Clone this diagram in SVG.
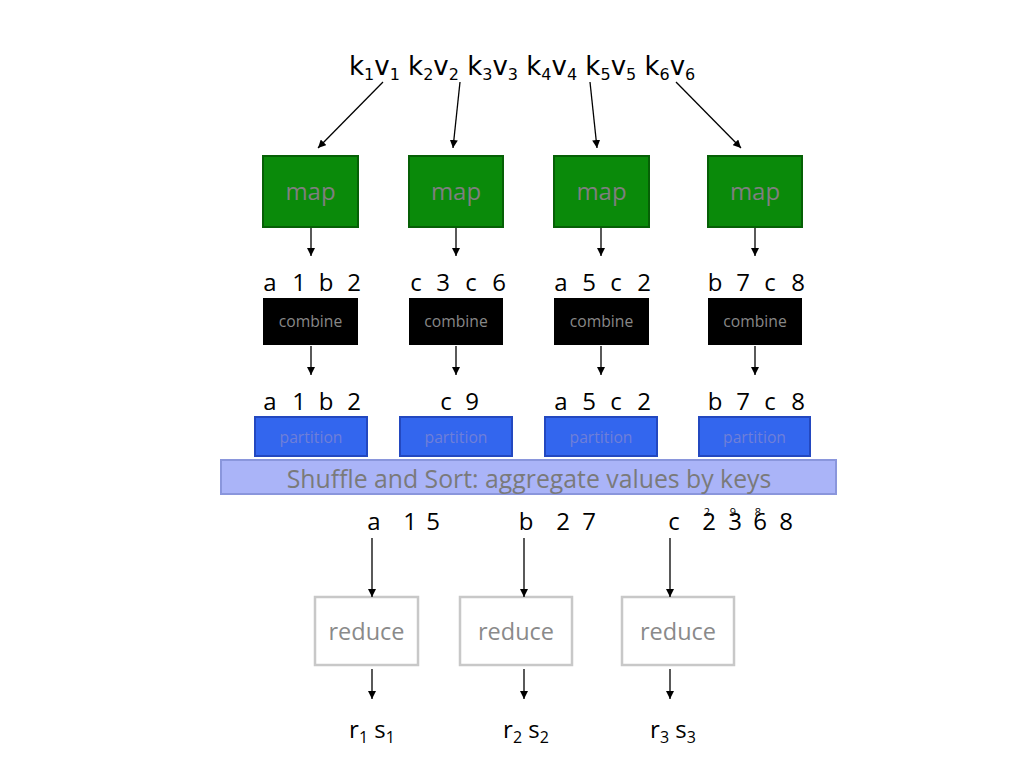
<svg xmlns="http://www.w3.org/2000/svg" width="1024" height="768" viewBox="0 0 1024 768">
<defs>
<marker id="ah" viewBox="0 0 10 10" refX="10" refY="5" markerWidth="8" markerHeight="8" markerUnits="userSpaceOnUse" orient="auto">
<path d="M0,0 L10,5 L0,10 z" fill="#000"/>
</marker>
<style>
.conn{stroke:#000;stroke-width:1.3;fill:none;marker-end:url(#ah)}
.lbl{font-family:"Open Sans","DejaVu Sans",sans-serif;font-size:24px;fill:#000;text-anchor:middle}
.top{font-family:"DejaVu Sans",Verdana,sans-serif;font-size:26px;fill:#000}
.sub{font-size:16px}
.map{fill:#0a8a0a;stroke:#066006;stroke-width:2}
.maptxt{font-family:"Open Sans",sans-serif;font-size:24px;fill:#7f7f7f;text-anchor:middle}
.comb{fill:#000}
.combtxt{font-family:"Open Sans",sans-serif;font-size:15.7px;fill:#888;text-anchor:middle}
.part{fill:#3366ee;stroke:#2348c0;stroke-width:2}
.parttxt{font-family:"Open Sans",sans-serif;font-size:15.7px;fill:#6f7fd8;text-anchor:middle}
.shuf{fill:#aab4f8;stroke:#8a96dc;stroke-width:2}
.shuftxt{font-family:"Open Sans",sans-serif;font-size:24.8px;fill:#7a7a7a;text-anchor:middle}
.red{fill:#fff;stroke:#c8c8c8;stroke-width:2.5}
.redtxt{font-family:"Open Sans",sans-serif;font-size:23.5px;fill:#8a8a8a;text-anchor:middle}
.tiny{font-family:"Open Sans",sans-serif;font-size:11px;fill:#000;text-anchor:middle}
</style>
</defs>
<rect width="1024" height="768" fill="#fff"/>

<g id="input">
<text class="top" x="349" y="75">k<tspan class="sub" dy="5">1</tspan><tspan dy="-5">v</tspan><tspan class="sub" dy="5">1</tspan><tspan dy="-5"> k</tspan><tspan class="sub" dy="5">2</tspan><tspan dy="-5">v</tspan><tspan class="sub" dy="5">2</tspan><tspan dy="-5"> k</tspan><tspan class="sub" dy="5">3</tspan><tspan dy="-5">v</tspan><tspan class="sub" dy="5">3</tspan><tspan dy="-5"> k</tspan><tspan class="sub" dy="5">4</tspan><tspan dy="-5">v</tspan><tspan class="sub" dy="5">4</tspan><tspan dy="-5"> k</tspan><tspan class="sub" dy="5">5</tspan><tspan dy="-5">v</tspan><tspan class="sub" dy="5">5</tspan><tspan dy="-5"> k</tspan><tspan class="sub" dy="5">6</tspan><tspan dy="-5">v</tspan><tspan class="sub" dy="5">6</tspan></text>
</g>

<g id="map1"><rect class="map" x="263" y="156" width="95" height="71"/><text class="maptxt" x="310.5" y="200">map</text></g>
<g id="map2"><rect class="map" x="409" y="156" width="94" height="71"/><text class="maptxt" x="456" y="200">map</text></g>
<g id="map3"><rect class="map" x="554" y="156" width="95" height="71"/><text class="maptxt" x="601.5" y="200">map</text></g>
<g id="map4"><rect class="map" x="708" y="156" width="94" height="71"/><text class="maptxt" x="755" y="200">map</text></g>

<g id="mapout">
<text class="lbl" y="291"><tspan x="270">a</tspan><tspan x="299">1</tspan><tspan x="326">b</tspan><tspan x="354">2</tspan></text>
<text class="lbl" y="291"><tspan x="416">c</tspan><tspan x="443">3</tspan><tspan x="471">c</tspan><tspan x="499">6</tspan></text>
<text class="lbl" y="291"><tspan x="561">a</tspan><tspan x="589">5</tspan><tspan x="616">c</tspan><tspan x="644">2</tspan></text>
<text class="lbl" y="291"><tspan x="715">b</tspan><tspan x="743">7</tspan><tspan x="770">c</tspan><tspan x="798">8</tspan></text>
</g>

<g id="combine1"><rect class="comb" x="263" y="298" width="95" height="47"/><text class="combtxt" x="310.5" y="327">combine</text></g>
<g id="combine2"><rect class="comb" x="409" y="298" width="94" height="47"/><text class="combtxt" x="456" y="327">combine</text></g>
<g id="combine3"><rect class="comb" x="554" y="298" width="95" height="47"/><text class="combtxt" x="601.5" y="327">combine</text></g>
<g id="combine4"><rect class="comb" x="708" y="298" width="94" height="47"/><text class="combtxt" x="755" y="327">combine</text></g>

<g id="combout">
<text class="lbl" y="410"><tspan x="270">a</tspan><tspan x="299">1</tspan><tspan x="326">b</tspan><tspan x="354">2</tspan></text>
<text class="lbl" y="410"><tspan x="446">c</tspan><tspan x="472">9</tspan></text>
<text class="lbl" y="410"><tspan x="561">a</tspan><tspan x="589">5</tspan><tspan x="616">c</tspan><tspan x="644">2</tspan></text>
<text class="lbl" y="410"><tspan x="715">b</tspan><tspan x="743">7</tspan><tspan x="770">c</tspan><tspan x="798">8</tspan></text>
</g>

<g id="partition1"><rect class="part" x="255" y="417" width="112" height="39"/><text class="parttxt" x="311" y="443">partition</text></g>
<g id="partition2"><rect class="part" x="400" y="417" width="112" height="39"/><text class="parttxt" x="456" y="443">partition</text></g>
<g id="partition3"><rect class="part" x="545" y="417" width="112" height="39"/><text class="parttxt" x="601" y="443">partition</text></g>
<g id="partition4"><rect class="part" x="699" y="417" width="111" height="39"/><text class="parttxt" x="754.5" y="443">partition</text></g>

<g id="shuffle"><rect class="shuf" x="221" y="460" width="615" height="34"/><text class="shuftxt" x="529" y="488">Shuffle and Sort: aggregate values by keys</text></g>

<g id="groups">
<text class="lbl" y="530"><tspan x="374">a</tspan><tspan x="410">1</tspan><tspan x="433">5</tspan></text>
<text class="lbl" y="530"><tspan x="526">b</tspan><tspan x="563">2</tspan><tspan x="589">7</tspan></text>
<text class="lbl" y="530"><tspan x="674">c</tspan><tspan x="709">2</tspan><tspan x="735">3</tspan><tspan x="760">6</tspan><tspan x="786">8</tspan></text>
<text class="tiny" y="516"><tspan x="707">2</tspan><tspan x="733">9</tspan><tspan x="758">8</tspan></text>
</g>

<g id="reduce1"><rect class="red" x="315" y="597" width="103" height="68"/><text class="redtxt" x="366.5" y="640">reduce</text></g>
<g id="reduce2"><rect class="red" x="460" y="597" width="112" height="68"/><text class="redtxt" x="516" y="640">reduce</text></g>
<g id="reduce3"><rect class="red" x="622" y="597" width="112" height="68"/><text class="redtxt" x="678" y="640">reduce</text></g>

<g id="outputs">
<text class="lbl" x="372" y="738">r<tspan font-size="16" dy="5">1</tspan><tspan dy="-5"> s</tspan><tspan font-size="16" dy="5">1</tspan></text>
<text class="lbl" x="526" y="738">r<tspan font-size="16" dy="5">2</tspan><tspan dy="-5"> s</tspan><tspan font-size="16" dy="5">2</tspan></text>
<text class="lbl" x="673" y="738">r<tspan font-size="16" dy="5">3</tspan><tspan dy="-5"> s</tspan><tspan font-size="16" dy="5">3</tspan></text>
</g>

<g id="connectors">
<line class="conn" x1="383" y1="82" x2="318" y2="148"/>
<line class="conn" x1="460" y1="82" x2="453" y2="148"/>
<line class="conn" x1="590" y1="82" x2="597" y2="148"/>
<line class="conn" x1="676" y1="82" x2="741" y2="148"/>
<line class="conn" x1="311" y1="228" x2="311" y2="256"/>
<line class="conn" x1="456" y1="228" x2="456" y2="256"/>
<line class="conn" x1="601" y1="228" x2="601" y2="256"/>
<line class="conn" x1="755" y1="228" x2="755" y2="256"/>
<line class="conn" x1="311" y1="346" x2="311" y2="375"/>
<line class="conn" x1="456" y1="346" x2="456" y2="375"/>
<line class="conn" x1="601" y1="346" x2="601" y2="375"/>
<line class="conn" x1="755" y1="346" x2="755" y2="375"/>
<line class="conn" x1="372" y1="538" x2="372" y2="597"/>
<line class="conn" x1="524" y1="538" x2="524" y2="597"/>
<line class="conn" x1="670" y1="538" x2="670" y2="597"/>
<line class="conn" x1="372" y1="669" x2="372" y2="699"/>
<line class="conn" x1="524" y1="669" x2="524" y2="699"/>
<line class="conn" x1="670" y1="669" x2="670" y2="699"/>
</g>
</svg>
